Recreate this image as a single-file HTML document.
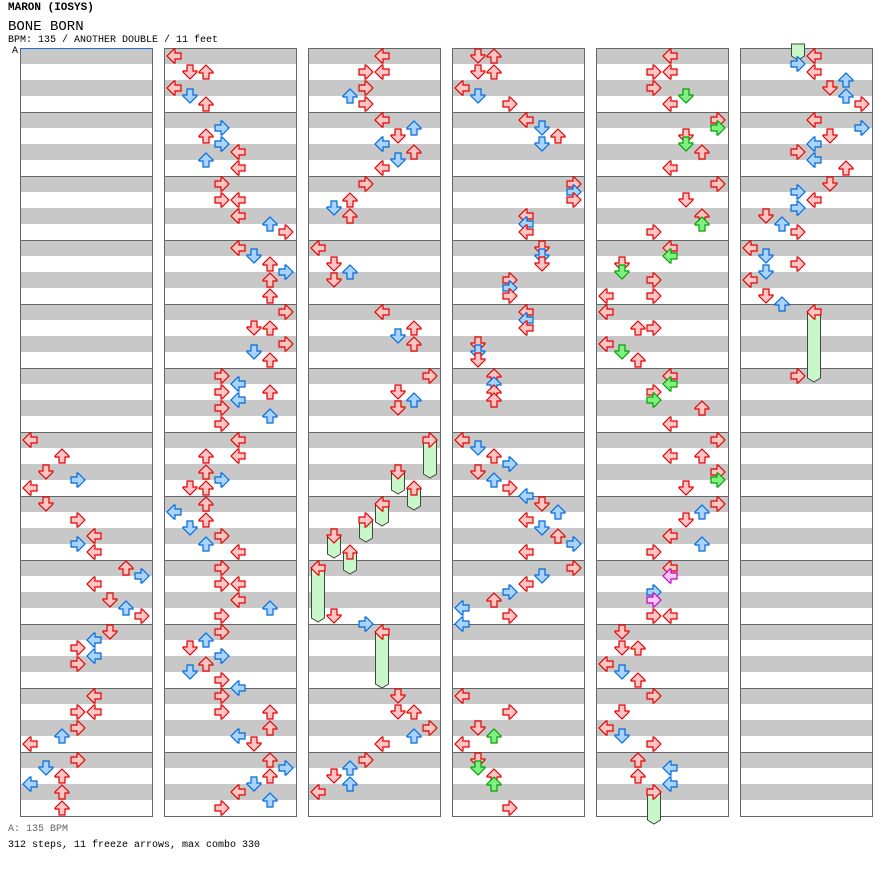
<!DOCTYPE html>
<html><head><meta charset="utf-8"><style>
body{margin:0;background:#fff;width:896px;height:876px;overflow:hidden;font-family:"Liberation Mono",monospace;}
.t{position:absolute;left:8px;white-space:pre;}
</style></head><body>
<div class="t" style="top:2px;font-size:11px;font-weight:bold;">MARON (IOSYS)</div>
<div class="t" style="top:19px;font-size:14px;">BONE BORN</div>
<div class="t" style="top:35px;font-size:10px;">BPM: 135 / ANOTHER DOUBLE / 11 feet</div>
<div class="t" style="top:46px;left:12px;font-size:10px;">A</div>
<div class="t" style="top:824px;font-size:10px;color:#666;">A: 135 BPM</div>
<div class="t" style="top:840px;font-size:10px;">312 steps, 11 freeze arrows, max combo 330</div>
<svg id="s" width="896" height="876" style="position:absolute;left:0;top:0"></svg>
<script>
const S=document.getElementById('s');let h='';
const cx=c=>20+144*c;
for(let c=0;c<6;c++){const x=cx(c);
 for(let m=0;m<12;m++){const y=48+64*m;
  h+=`<rect x="${x}" y="${y}" width="132" height="16" fill="#c8c8c8"/><rect x="${x}" y="${y+32}" width="132" height="16" fill="#c8c8c8"/>`;
  h+=`<line x1="${x}" x2="${x+132}" y1="${y+.5}" y2="${y+.5}" stroke="#666"/>`;}
 h+=`<rect x="${x+.5}" y="48.5" width="132" height="768" fill="none" stroke="#666"/>`;}
h+=`<line x1="20" x2="152" y1="48.5" y2="48.5" stroke="#2070d0"/>`;
const fr=[[2,430,440,478],[2,398,472,494],[2,414,488,510],[2,382,504,526],[2,366,520,542],[2,334,536,558],[2,350,552,574],[2,318,568,622],[2,382,632,688],[4,654,792,824],[5,814,312,382],[5,798,44,60]];
fr.forEach(([c,x,y1,y2])=>{const l=Math.round((x-cx(c)-10)/16),X=cx(c)+2+16*l;
 h+=`<polygon points="${X+1.5},${y1} ${X+14.5},${y1} ${X+14.5},${y2-4} ${X+8},${y2} ${X+1.5},${y2-4}" fill="#c8f8c8" stroke="#444"/>`;});
const D=`
0,30,440,r;0,62,456,r;0,46,472,r;0,78,480,b;0,30,488,r;0,46,504,r;0,78,520,r;0,94,536,r;0,78,544,b;0,94,552,r;
0,126,568,r;0,142,576,b;0,94,584,r;0,110,600,r;0,126,608,b;0,142,616,r;0,110,632,r;0,94,640,b;0,78,648,r;0,94,656,b;0,78,664,r;
0,94,696,r;0,78,712,r;0,94,712,r;0,62,736,b;0,78,728,r;0,30,744,r;0,78,760,r;0,46,768,b;0,62,776,r;0,30,784,b;0,62,792,r;0,62,808,r;
1,174,56,r;1,190,72,r;1,206,72,r;1,174,88,r;1,190,96,b;1,206,104,r;1,222,128,b;1,206,136,r;1,222,144,b;1,238,152,r;1,206,160,b;1,238,168,r;
1,222,184,r;1,222,200,r;1,238,200,r;1,238,216,r;1,270,224,b;1,286,232,r;1,238,248,r;1,254,256,b;1,270,264,r;1,286,272,b;1,270,280,r;1,270,296,r;
1,286,312,r;1,254,328,r;1,270,328,r;1,286,344,r;1,254,352,b;1,270,360,r;1,222,376,r;1,238,384,b;1,222,392,r;1,238,400,b;1,270,392,r;1,222,408,r;1,270,416,b;1,222,424,r;
1,238,440,r;1,206,456,r;1,238,456,r;1,206,472,r;1,222,480,b;1,190,488,r;1,206,488,r;1,206,504,r;1,206,520,r;1,174,512,b;1,190,528,b;1,222,536,r;1,206,544,b;1,238,552,r;
1,222,568,r;1,222,584,r;1,238,584,r;1,238,600,r;1,270,608,b;1,222,616,r;1,222,632,r;1,206,640,b;1,190,648,r;1,222,656,b;1,206,664,r;1,190,672,b;1,222,680,r;1,238,688,b;
1,222,696,r;1,222,712,r;1,270,712,r;1,270,728,r;1,238,736,b;1,254,744,r;1,270,760,r;1,286,768,b;1,270,776,r;1,254,784,b;1,238,792,r;1,270,800,b;1,222,808,r;
2,382,56,r;2,366,72,r;2,382,72,r;2,366,88,r;2,350,96,b;2,366,104,r;2,382,120,r;2,398,136,r;2,414,128,b;2,382,144,b;2,414,152,r;2,398,160,b;2,382,168,r;
2,366,184,r;2,350,200,r;2,334,208,b;2,350,216,r;2,318,248,r;2,334,264,r;2,350,272,b;2,334,280,r;2,382,312,r;2,414,328,r;2,398,336,b;2,414,344,r;
2,430,376,r;2,398,392,r;2,414,400,b;2,398,408,r;2,430,440,r;2,398,472,r;2,414,488,r;2,382,504,r;2,366,520,r;2,334,536,r;2,350,552,r;2,318,568,r;2,334,616,r;2,366,624,b;2,382,632,r;
2,398,696,r;2,398,712,r;2,414,712,r;2,430,728,r;2,414,736,b;2,382,744,r;2,366,760,r;2,350,768,b;2,334,776,r;2,350,784,b;2,318,792,r;
3,478,56,r;3,494,56,r;3,478,72,r;3,494,72,r;3,462,88,r;3,478,96,b;3,510,104,r;3,526,120,r;3,542,128,b;3,558,136,r;3,542,144,b;
3,574,184,r;3,574,192,b;3,574,200,r;3,526,216,r;3,526,224,b;3,526,232,r;3,542,248,r;3,542,256,b;3,542,264,r;3,510,280,r;3,510,288,b;3,510,296,r;
3,526,312,r;3,526,320,b;3,526,328,r;3,478,344,r;3,478,352,b;3,478,360,r;3,494,376,r;3,494,384,b;3,494,392,r;3,494,400,r;
3,462,440,r;3,478,448,b;3,494,456,r;3,478,472,r;3,510,464,b;3,494,480,b;3,510,488,r;3,526,496,b;3,542,504,r;3,558,512,b;3,526,520,r;3,542,528,b;3,558,536,r;3,574,544,b;3,526,552,r;
3,574,568,r;3,542,576,b;3,526,584,r;3,510,592,b;3,494,600,r;3,462,608,b;3,510,616,r;3,462,624,b;
3,462,696,r;3,510,712,r;3,478,728,r;3,494,736,g;3,462,744,r;3,478,760,r;3,478,768,g;3,494,776,r;3,494,784,g;3,510,808,r;
4,670,56,r;4,654,72,r;4,670,72,r;4,654,88,r;4,686,96,g;4,670,104,r;4,718,120,r;4,718,128,g;4,686,136,r;4,686,144,g;4,702,152,r;4,670,168,r;
4,718,184,r;4,686,200,r;4,702,216,r;4,702,224,g;4,654,232,r;4,670,248,r;4,670,256,g;4,622,264,r;4,622,272,g;4,654,280,r;4,606,296,r;4,654,296,r;
4,606,312,r;4,638,328,r;4,654,328,r;4,606,344,r;4,622,352,g;4,638,360,r;4,670,376,r;4,670,384,g;4,654,392,r;4,654,400,g;4,702,408,r;4,670,424,r;
4,718,440,r;4,670,456,r;4,702,456,r;4,718,472,r;4,718,480,g;4,686,488,r;4,718,504,r;4,702,512,b;4,686,520,r;4,670,536,r;4,702,544,b;4,654,552,r;
4,670,568,r;4,670,576,p;4,654,592,b;4,654,600,p;4,654,616,r;4,670,616,r;4,622,632,r;4,622,648,r;4,638,648,r;4,606,664,r;4,622,672,b;4,638,680,r;
4,654,696,r;4,622,712,r;4,606,728,r;4,622,736,b;4,654,744,r;4,638,760,r;4,670,768,b;4,638,776,r;4,670,784,b;4,654,792,r;
5,798,64,b;5,814,56,r;5,814,72,r;5,846,80,b;5,830,88,r;5,846,96,b;5,862,104,r;5,814,120,r;5,830,136,r;5,862,128,b;5,814,144,b;5,798,152,r;5,814,160,b;5,846,168,r;
5,830,184,r;5,798,192,b;5,814,200,r;5,798,208,b;5,766,216,r;5,782,224,b;5,798,232,r;5,750,248,r;5,766,256,b;5,766,272,b;5,798,264,r;5,750,280,r;5,766,296,r;5,782,304,b;
5,814,312,r;5,798,376,r`;
const col={r:['#ffc4c4','#e00000'],b:['#a8d4ff','#0068d8'],g:['#80f080','#00a000'],p:['#ffc8ff','#c000c0']};
const rot=[-90,180,0,90];
D.replace(/\s/g,'').split(';').forEach(e=>{const [c,x,y,k]=e.split(',');const C=+c,l=Math.round((+x-cx(C)-10)/16);
 const X=cx(C)+2+16*l,Y=+y-8,[f,s]=col[k];
 h+=`<g transform="translate(${X+8},${Y+8}) rotate(${rot[l%4]})"><polygon points="0,-7 7,0 7,1 3,1 3,7 -3,7 -3,1 -7,1 -7,0" fill="${f}" stroke="${s}" stroke-width="1.2" stroke-linejoin="miter"/></g>`;});
S.innerHTML=h;
</script>
</body></html>
